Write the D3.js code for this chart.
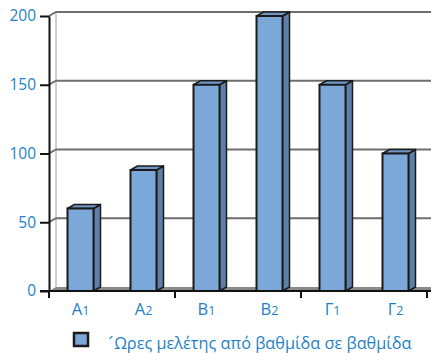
<!DOCTYPE html>
<html>
<head>
<meta charset="utf-8">
<script src="https://cdn.jsdelivr.net/npm/d3@7"></script>
<style>
  html, body { margin: 0; padding: 0; background: #fff; }
  svg { display: block; }
</style>
</head>
<body>
<svg id="chart" width="431" height="353"></svg>
<script>
// Study hours per school level
const letters = ["Α", "Α", "Β", "Β", "Γ", "Γ"];
const subs = ["1", "2", "1", "2", "1", "2"];
const hours = [60, 88, 150, 200, 150, 100];
const yTicks = [0, 50, 100, 150, 200];
const legendLabel = "΄Ωρες μελέτης από βαθμίδα σε βαθμίδα";

const cats = letters.map((l, i) => l + subs[i]);
const svg = d3.select("#chart");
const font = "'Open Sans', sans-serif";
const blue = "#1f7fc6";

// 3D depth offset of the back wall
const dx = 7, dy = -4;

const x = d3.scaleBand().domain(cats).range([49, 427]);
const y = d3.scaleLinear().domain([0, 200]).range([291, 16]);
const right = 431;

// back wall: left edge and gridlines
svg.append("line")
  .attr("x1", 49 + dx).attr("x2", 49 + dx)
  .attr("y1", y(200) + dy).attr("y2", y(0) + dy)
  .attr("stroke", "#cfcfcf").attr("stroke-width", 2);

const grid = svg.append("g");
yTicks.filter(v => v > 0).forEach(v => {
  grid.append("path")
    .attr("d", `M49,${y(v)}L${49 + dx},${y(v) + dy}H${right}`)
    .attr("fill", "none").attr("stroke", "#6e6e6e").attr("stroke-width", 2);
});

// floor
svg.append("path")
  .attr("d", `M49,${y(0)}L${49 + dx},${y(0) + dy}H${right}V${y(0)}Z`)
  .attr("fill", "#8a8a8a");

// bars
const bw = 26;
const bars = svg.append("g").selectAll("g").data(cats).join("g");
bars.each(function (c, i) {
  const g = d3.select(this);
  const cx = x(c) + x.bandwidth() / 2;
  const x0 = cx - bw / 2, x1 = cx + bw / 2;
  const yt = y(hours[i]), yb = y(0);
  // side face
  g.append("path")
    .attr("d", `M${x1},${yb}L${x1 + dx},${yb + dy}V${yt + dy}L${x1},${yt}Z`)
    .attr("fill", "#5d7fa8").attr("stroke", "#1b1b1b").attr("stroke-width", 1.5)
    .attr("stroke-linejoin", "round");
  // top face
  g.append("path")
    .attr("d", `M${x0},${yt}L${x0 + dx},${yt + dy}H${x1 + dx}L${x1},${yt}Z`)
    .attr("fill", "#6f98c8").attr("stroke", "#1b1b1b").attr("stroke-width", 1.5)
    .attr("stroke-linejoin", "round");
  // front face
  g.append("rect")
    .attr("x", x0).attr("y", yt).attr("width", bw).attr("height", yb - yt)
    .attr("fill", "#7ba7d9").attr("stroke", "#1b1b1b").attr("stroke-width", 2);
});

// y axis
const yAxis = svg.append("g").attr("transform", "translate(49,0)")
  .call(d3.axisLeft(y).tickValues(yTicks).tickSize(9).tickPadding(4).tickSizeOuter(0));
yAxis.select(".domain").attr("stroke", "#111").attr("stroke-width", 2);
yAxis.selectAll(".tick line").attr("stroke", "#111").attr("stroke-width", 2);
yAxis.selectAll(".tick text").attr("fill", blue)
  .style("font-family", font).style("font-size", "15.5px");

// x axis
svg.append("line")
  .attr("x1", 40).attr("x2", right).attr("y1", y(0)).attr("y2", y(0))
  .attr("stroke", "#111").attr("stroke-width", 2);
const bounds = [0, 2, 4, 6].map(k => 49 + k * x.step());
svg.append("g").selectAll("line").data(bounds).join("line")
  .attr("x1", d => d).attr("x2", d => d)
  .attr("y1", y(0)).attr("y2", y(0) + 7)
  .attr("stroke", "#111").attr("stroke-width", 2);

const xl = svg.append("g").selectAll("text").data(cats).join("text")
  .attr("x", d => x(d) + x.bandwidth() / 2)
  .attr("y", 315)
  .attr("text-anchor", "middle")
  .attr("fill", blue)
  .style("font-family", font).style("font-size", "16.5px");
xl.append("tspan").text((d, i) => letters[i]);
xl.append("tspan").style("font-size", "12.5px").text((d, i) => subs[i]);

// legend
svg.append("rect")
  .attr("x", 74).attr("y", 333).attr("width", 14).attr("height", 13)
  .attr("fill", "#7ba7d9").attr("stroke", "#1b1b1b").attr("stroke-width", 2.5);
const legendText = svg.append("text")
  .attr("x", 106).attr("y", 349)
  .attr("fill", blue)
  .style("font-family", font).style("font-size", "16.3px");
// the leading tonos mark is set in a face that draws it as a separate glyph
legendText.append("tspan").style("font-family", "'DejaVu Sans', sans-serif")
  .text(legendLabel.slice(0, 1));
legendText.append("tspan").text(legendLabel.slice(1));
</script>
</body>
</html>
